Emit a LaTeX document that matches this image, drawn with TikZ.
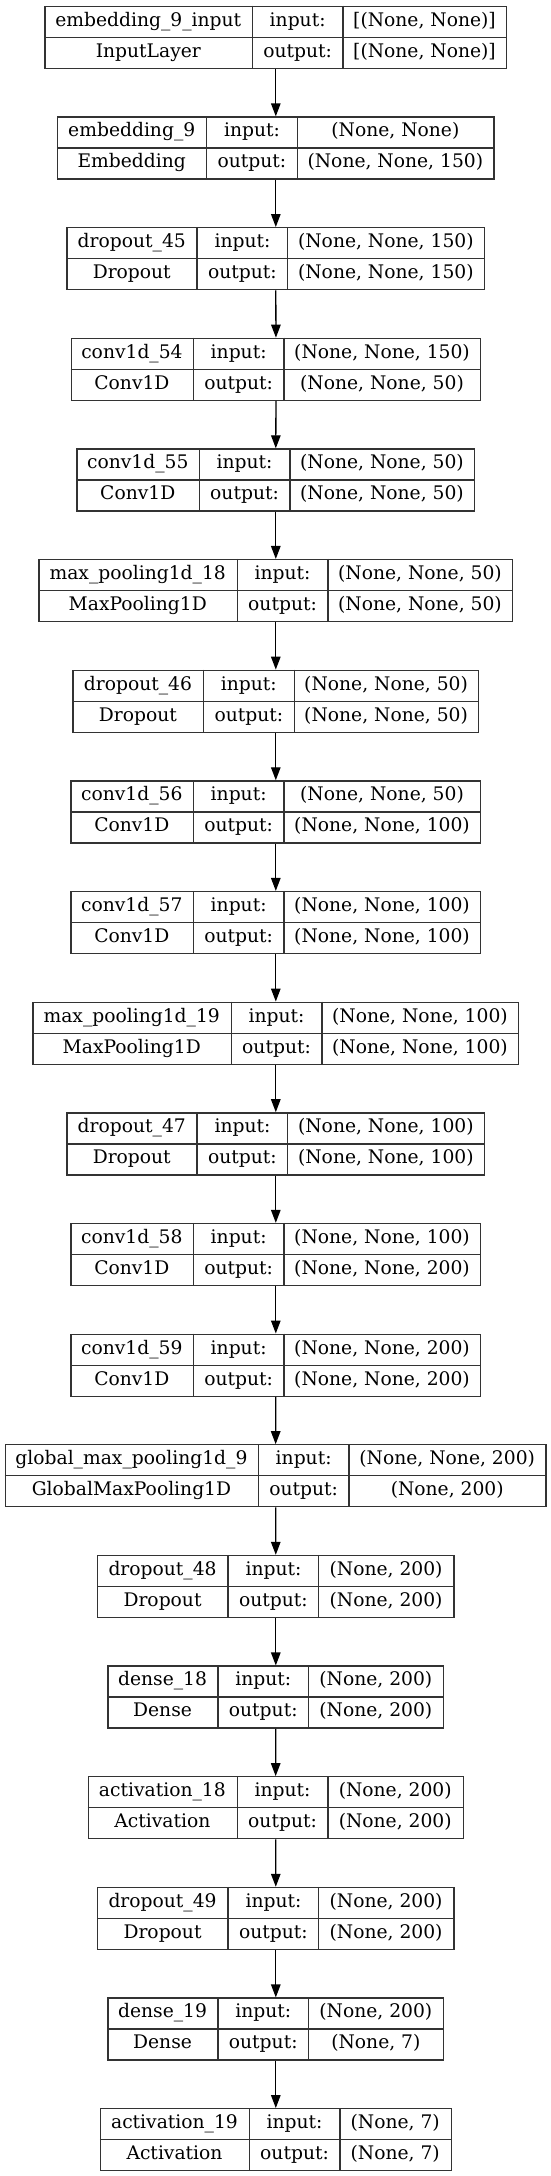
\documentclass[tikz,border=0pt]{standalone}
\usepackage{fontspec}
\setmainfont{DejaVu Serif}
\usepackage{tikz}
\usetikzlibrary{arrows.meta}

\tikzset{
  layerbox/.style={draw=black!80, line width=1.3pt, minimum height=62pt, inner sep=0pt},
  sepline/.style={draw=black!80, line width=1.3pt},
  txt/.style={inner sep=0pt, text height=13.5pt, text depth=3.5pt,
    font=\fontsize{18.7pt}{22pt}\selectfont},
  flow/.style={line width=1.3pt, -{Triangle[length=13pt, width=9.5pt]}}
}

% #1 name, #2 row, #3 left, #4 first split, #5 right, #6 layer, #7 type, #8 input, #9 output
\newcommand{\kerasnode}[9]{%
  \node[layerbox, minimum width={(#5-#3)*1pt}, anchor=north west] (#1) at (#3,{-5.7-110.65*#2}) {};
  \draw[sepline] (#4,{-5.7-110.65*#2}) -- ++(0,-62);
  \draw[sepline] ({#4+90.7},{-5.7-110.65*#2}) -- ++(0,-62);
  \draw[sepline] (#1.west) -- (#1.east);
  \node[txt] (#1n) at ({(#3+#4)/2},{-5.7-110.65*#2-15.5}) {#6};
  \node[txt] (#1t) at ({(#3+#4)/2},{-5.7-110.65*#2-46.5}) {#7};
  \node[txt] (#1i) at ({#4+45.35},{-5.7-110.65*#2-15.5}) {input:};
  \node[txt] (#1o) at ({#4+45.35},{-5.7-110.65*#2-46.5}) {output:};
  \node[txt] (#1a) at ({(#4+90.7+#5)/2},{-5.7-110.65*#2-15.5}) {#8};
  \node[txt] (#1b) at ({(#4+90.7+#5)/2},{-5.7-110.65*#2-46.5}) {#9};
}

\begin{document}
\begin{tikzpicture}[x=1pt, y=1pt]
  \useasboundingbox (0,0) rectangle (551,-2176);

  \kerasnode{l0}{0}{44.3}{252.3}{506}{embedding\_9\_input}{InputLayer}{[(None, None)]}{[(None, None)]}
  \kerasnode{l1}{1}{56.9}{206.6}{493.4}{embedding\_9}{Embedding}{(None, None)}{(None, None, 150)}
  \kerasnode{l2}{2}{66.4}{197.1}{483.9}{dropout\_45}{Dropout}{(None, None, 150)}{(None, None, 150)}
  \kerasnode{l3}{3}{70.6}{193.3}{480}{conv1d\_54}{Conv1D}{(None, None, 150)}{(None, None, 50)}
  \kerasnode{l4}{4}{76.3}{199.2}{474}{conv1d\_55}{Conv1D}{(None, None, 50)}{(None, None, 50)}
  \kerasnode{l5}{5}{38.3}{237.2}{512}{max\_pooling1d\_18}{MaxPooling1D}{(None, None, 50)}{(None, None, 50)}
  \kerasnode{l6}{6}{72.4}{203.5}{477.9}{dropout\_46}{Dropout}{(None, None, 50)}{(None, None, 50)}
  \kerasnode{l7}{7}{70.3}{193.3}{480}{conv1d\_56}{Conv1D}{(None, None, 50)}{(None, None, 100)}
  \kerasnode{l8}{8}{70.3}{193.3}{480}{conv1d\_57}{Conv1D}{(None, None, 100)}{(None, None, 100)}
  \kerasnode{l9}{9}{32.3}{231.2}{518}{max\_pooling1d\_19}{MaxPooling1D}{(None, None, 100)}{(None, None, 100)}
  \kerasnode{l10}{10}{66.4}{197.1}{483.9}{dropout\_47}{Dropout}{(None, None, 100)}{(None, None, 100)}
  \kerasnode{l11}{11}{70.3}{193.3}{480}{conv1d\_58}{Conv1D}{(None, None, 100)}{(None, None, 200)}
  \kerasnode{l12}{12}{70.3}{193.3}{480}{conv1d\_59}{Conv1D}{(None, None, 200)}{(None, None, 200)}
  \kerasnode{l13}{13}{4.6}{258.3}{545.4}{global\_max\_pooling1d\_9}{GlobalMaxPooling1D}{(None, None, 200)}{(None, 200)}
  \kerasnode{l14}{14}{97}{228.1}{453.3}{dropout\_48}{Dropout}{(None, 200)}{(None, 200)}
  \kerasnode{l15}{15}{107.2}{217.9}{443.1}{dense\_18}{Dense}{(None, 200)}{(None, 200)}
  \kerasnode{l16}{16}{87.5}{237.2}{462.5}{activation\_18}{Activation}{(None, 200)}{(None, 200)}
  \kerasnode{l17}{17}{97}{228.1}{453.3}{dropout\_49}{Dropout}{(None, 200)}{(None, 200)}
  \kerasnode{l18}{18}{107.2}{217.9}{443.1}{dense\_19}{Dense}{(None, 200)}{(None, 7)}
  \kerasnode{l19}{19}{99.8}{249.2}{450.5}{activation\_19}{Activation}{(None, 7)}{(None, 7)}

  %%%%%%%%%%%%%%%%%%%%%%%%%%%%%%%%%%%
  \draw[flow] (l0.south) -- (l1.north);
  \draw[flow] (l1.south) -- (l2.north);
  \draw[flow] (l2.south) -- (l3.north);
  \draw[flow] (l3.south) -- (l4.north);
  \draw[flow] (l4.south) -- (l5.north);
  \draw[flow] (l5.south) -- (l6.north);
  \draw[flow] (l6.south) -- (l7.north);
  \draw[flow] (l7.south) -- (l8.north);
  \draw[flow] (l8.south) -- (l9.north);
  \draw[flow] (l9.south) -- (l10.north);
  \draw[flow] (l10.south) -- (l11.north);
  \draw[flow] (l11.south) -- (l12.north);
  \draw[flow] (l12.south) -- (l13.north);
  \draw[flow] (l13.south) -- (l14.north);
  \draw[flow] (l14.south) -- (l15.north);
  \draw[flow] (l15.south) -- (l16.north);
  \draw[flow] (l16.south) -- (l17.north);
  \draw[flow] (l17.south) -- (l18.north);
  \draw[flow] (l18.south) -- (l19.north);
\end{tikzpicture}
\end{document}
